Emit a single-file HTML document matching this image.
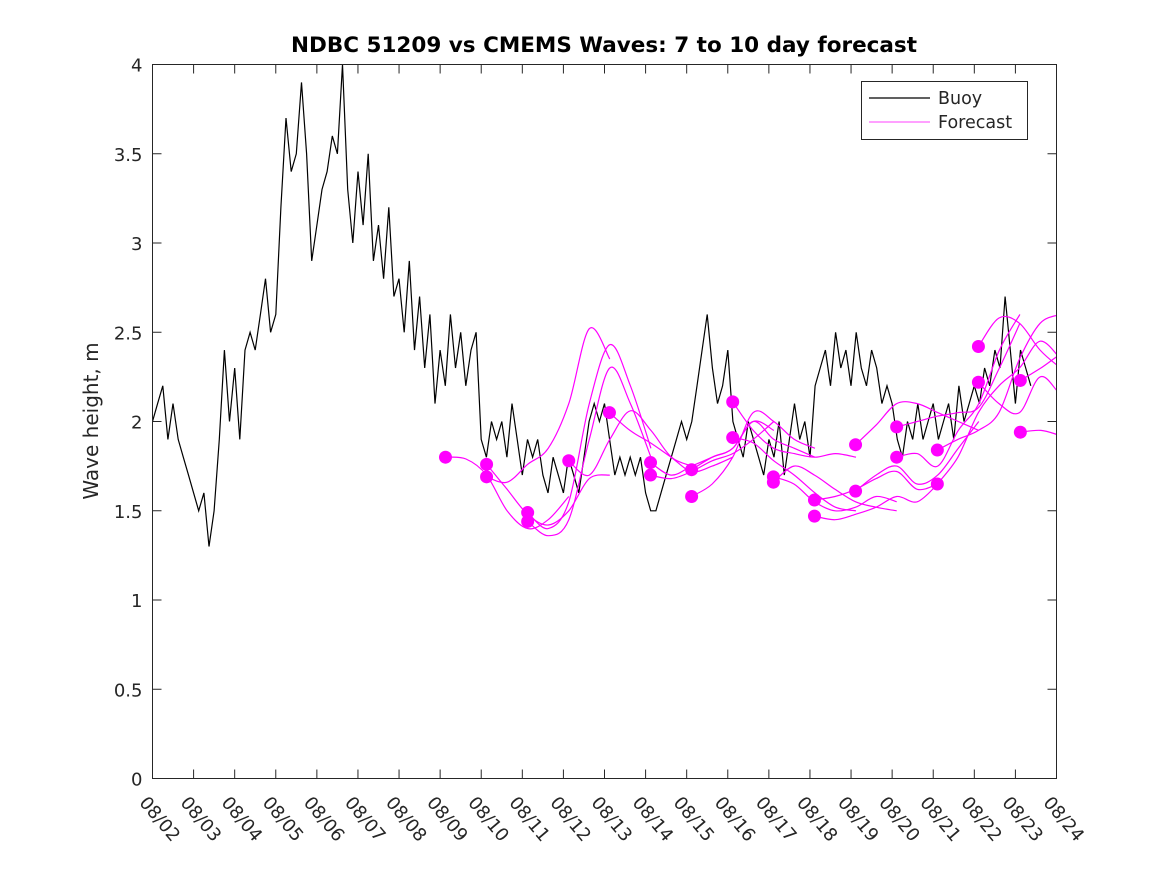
<!DOCTYPE html>
<html><head><meta charset="utf-8"><style>
body{margin:0;background:#fff;}
svg{display:block;font-family:"DejaVu Sans","Liberation Sans",sans-serif;}
</style></head><body>
<svg id="chart" width="1167" height="875" xmlns="http://www.w3.org/2000/svg">
<defs><clipPath id="plotclip"><rect x="152.5" y="64.5" width="904" height="714"/></clipPath></defs>
<rect width="1167" height="875" fill="#fff"/>
<text x="604" y="52" text-anchor="middle" font-size="21.5" font-weight="bold" fill="#000">NDBC 51209 vs CMEMS Waves: 7 to 10 day forecast</text>
<text transform="translate(98,421) rotate(-90)" text-anchor="middle" font-size="20" fill="#262626">Wave height, m</text>
<g id="axes"></g>
<g id="marks" clip-path="url(#plotclip)"></g>
<rect x="152.5" y="64.5" width="904" height="714" fill="none" stroke="#262626" stroke-width="1"/>
<g>
<rect x="861.5" y="81.5" width="166" height="58" fill="#fff" stroke="#262626"/>
<line x1="869" y1="98" x2="930" y2="98" stroke="#000" stroke-width="1.2"/>
<text x="938" y="104" font-size="17.5" fill="#262626">Buoy</text>
<line x1="869" y1="122" x2="930" y2="122" stroke="#ff00ff" stroke-width="0.8"/>
<text x="938" y="128" font-size="17.5" fill="#262626">Forecast</text>
</g>
</svg>
<script>
const xTickLabels=["08/02","08/03","08/04","08/05","08/06","08/07","08/08","08/09","08/10","08/11","08/12","08/13","08/14","08/15","08/16","08/17","08/18","08/19","08/20","08/21","08/22","08/23","08/24"];
const yTicks=[0,0.5,1,1.5,2,2.5,3,3.5,4];
const buoyStep=0.125;
const buoyValues=[
2.0,2.1,2.2,1.9,2.1,1.9,1.8,1.7,
1.6,1.5,1.6,1.3,1.5,1.9,2.4,2.0,
2.3,1.9,2.4,2.5,2.4,2.6,2.8,2.5,
2.6,3.2,3.7,3.4,3.5,3.9,3.5,2.9,
3.1,3.3,3.4,3.6,3.5,4.0,3.3,3.0,
3.4,3.1,3.5,2.9,3.1,2.8,3.2,2.7,
2.8,2.5,2.9,2.4,2.7,2.3,2.6,2.1,
2.4,2.2,2.6,2.3,2.5,2.2,2.4,2.5,
1.9,1.8,2.0,1.9,2.0,1.8,2.1,1.9,
1.7,1.9,1.8,1.9,1.7,1.6,1.8,1.7,
1.6,1.8,1.7,1.6,1.8,2.0,2.1,2.0,
2.1,1.9,1.7,1.8,1.7,1.8,1.7,1.8,
1.6,1.5,1.5,1.6,1.7,1.8,1.9,2.0,
1.9,2.0,2.2,2.4,2.6,2.3,2.1,2.2,
2.4,2.0,1.9,1.8,2.0,1.9,1.8,1.7,
1.9,1.8,2.0,1.7,1.9,2.1,1.9,2.0,
1.8,2.2,2.3,2.4,2.2,2.5,2.3,2.4,
2.2,2.5,2.3,2.2,2.4,2.3,2.1,2.2,
2.1,1.9,1.8,2.0,1.9,2.1,1.9,2.0,
2.1,1.9,2.0,2.1,1.9,2.2,2.0,2.1,
2.2,2.1,2.3,2.2,2.4,2.3,2.7,2.4,
2.1,2.4,2.3,2.2];
const forecastStep=0.5;
const forecastStarts=[7.13,8.13,8.13,9.13,9.13,10.13,11.12,12.12,12.12,13.12,13.12,14.12,14.12,15.11,15.11,16.11,16.11,17.11,17.11,18.11,18.11,19.1,19.1,20.1,20.1,21.12,21.12];
const forecastValues=[
[1.80,1.79,1.70,1.50,1.40,1.45,1.58],
[1.76,1.62,1.48,1.42,1.50,1.68,1.70],
[1.69,1.66,1.76,1.85,2.10,2.52,2.35],
[1.49,1.40,1.55,2.10,2.43,2.20,1.85],
[1.44,1.36,1.45,1.90,2.30,2.10,1.80],
[1.78,1.70,1.90,2.06,1.95,1.80,1.75],
[2.05,1.95,1.88,1.80,1.72,1.75,1.80],
[1.77,1.70,1.75,1.80,1.85,2.00,1.95],
[1.70,1.68,1.72,1.78,1.82,1.90,2.00],
[1.73,1.80,1.85,2.00,1.90,1.85,1.80],
[1.58,1.65,1.80,2.05,2.00,1.90,1.85],
[2.11,1.95,1.85,1.82,1.80,1.82,1.80],
[1.91,1.88,1.78,1.70,1.60,1.52,1.50],
[1.69,1.65,1.55,1.50,1.52,1.58,1.55],
[1.66,1.75,1.70,1.62,1.55,1.52,1.50],
[1.56,1.58,1.62,1.68,1.72,1.62,1.65],
[1.47,1.45,1.48,1.52,1.58,1.55,1.65],
[1.87,1.98,2.10,2.10,2.05,2.00,1.95],
[1.61,1.70,1.75,1.65,1.70,1.85,2.00],
[1.97,2.00,2.03,2.05,2.08,2.30,2.55],
[1.80,1.82,1.75,1.95,2.10,2.40,2.60],
[1.84,1.90,1.95,2.05,2.35,2.55,2.60],
[1.65,1.80,2.05,2.20,2.30,2.45,2.35],
[2.42,2.58,2.55,2.40,2.30,2.22,2.15],
[2.22,2.10,2.05,2.25,2.15,2.05,2.00],
[2.23,2.30,2.38,2.44],
[1.94,1.95,1.92,1.89]];

const X0=152.5,X1=1056.5,Y0=778.5,Y1=64.5;
const xs=d=>X0+d*(X1-X0)/22;
const ys=v=>Y0-v*(Y0-Y1)/4;
const NS="http://www.w3.org/2000/svg";
const axes=document.getElementById('axes'),marks=document.getElementById('marks');
function mk(tag,attrs,parent){const e=document.createElementNS(NS,tag);for(const k in attrs)e.setAttribute(k,attrs[k]);parent.appendChild(e);return e;}

yTicks.forEach(v=>{
  const y=ys(v);
  const t1=mk('line',{x1:X0,y1:y,x2:X0+9,y2:y,stroke:'#262626'},axes);
  
  
  const t2=mk('line',{x1:X1,y1:y,x2:X1-9,y2:y,stroke:'#262626'},axes);
  
  
  const tx=mk('text',{x:X0-10,y:y+7,'text-anchor':'end','font-size':18,fill:'#262626'},axes);
  tx.textContent=String(v);
  
  
});
xTickLabels.forEach((lab,i)=>{
  const x=xs(i);
  const t1=mk('line',{x1:x,y1:Y0,x2:x,y2:Y0-9,stroke:'#262626'},axes);
  
  
  const t2=mk('line',{x1:x,y1:Y1,x2:x,y2:Y1+9,stroke:'#262626'},axes);
  
  
  const ox=x-14,oy=803;
  const tx=mk('text',{x:ox,y:oy,'font-size':18,fill:'#262626',transform:`rotate(50 ${ox} ${oy})`},axes);
  tx.textContent=lab;
  
  
});

let d='';
buoyValues.forEach((v,i)=>{d+=(i?'L':'M')+xs(i*buoyStep).toFixed(1)+','+ys(v).toFixed(1);});
const bl=mk('path',{d:d,fill:'none',stroke:'#000','stroke-width':1.2,'stroke-linejoin':'miter'},marks);



function smooth(pts){
  let s='M'+pts[0][0].toFixed(1)+','+pts[0][1].toFixed(1);
  for(let i=0;i<pts.length-1;i++){
    const p0=pts[Math.max(0,i-1)],p1=pts[i],p2=pts[i+1],p3=pts[Math.min(pts.length-1,i+2)];
    const c1x=p1[0]+(p2[0]-p0[0])/6,c1y=p1[1]+(p2[1]-p0[1])/6;
    const c2x=p2[0]-(p3[0]-p1[0])/6,c2y=p2[1]-(p3[1]-p1[1])/6;
    s+=`C${c1x.toFixed(1)},${c1y.toFixed(1)} ${c2x.toFixed(1)},${c2y.toFixed(1)} ${p2[0].toFixed(1)},${p2[1].toFixed(1)}`;
  }
  return s;
}
forecastValues.forEach((vals,k)=>{
  const t0=forecastStarts[k];
  const pts=vals.map((v,i)=>[xs(t0+i*forecastStep),ys(v)]);
  const p=mk('path',{d:smooth(pts),fill:'none',stroke:'#ff00ff','stroke-width':1.2},marks);
  
  
});
forecastValues.forEach((vals,k)=>{
  const c=mk('circle',{cx:xs(forecastStarts[k]),cy:ys(vals[0]),r:6.5,fill:'#ff00ff'},marks);
  
  
});
</script>
</body></html>
